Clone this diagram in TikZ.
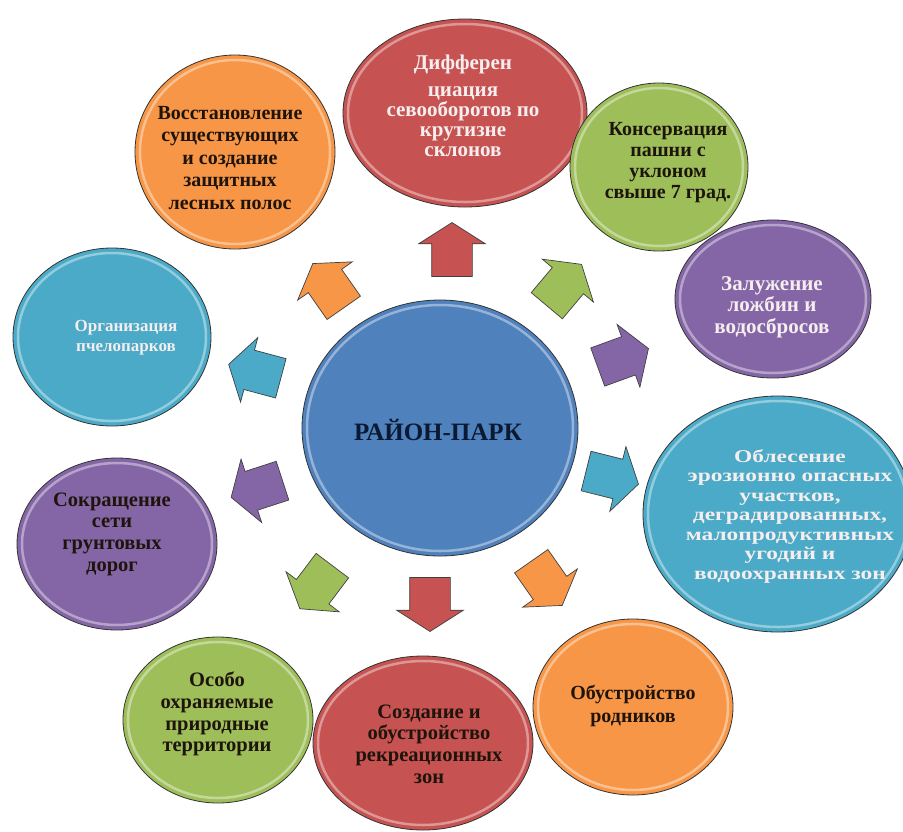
\documentclass[tikz,border=0pt]{standalone}
\usepackage{fontspec}
\setmainfont{Liberation Serif}
\usetikzlibrary{shapes.geometric,shapes.arrows}
\definecolor{cred}{HTML}{C65351}
\definecolor{corange}{HTML}{F79646}
\definecolor{cgreen}{HTML}{9EBE5A}
\definecolor{cpurple}{HTML}{8466A6}
\definecolor{ccyan}{HTML}{4AAAC7}
\definecolor{cblue}{HTML}{4F81BD}
\definecolor{tlight}{HTML}{F5EDEE}
\definecolor{tdark}{HTML}{1E140C}
\definecolor{tnavy}{HTML}{0B1A33}
\newcommand\mybubble[5]{%
  \node[bubble, fill=#5, minimum width=2*#3, minimum height=2*#4] (#1) at #2 {};
  \draw[rim] (#1.center) ellipse [x radius=#3-5, y radius=#4-5];
}
\newcommand\fsz[2]{\fontsize{#1}{#2}\selectfont\bfseries}
\begin{document}
\begin{tikzpicture}[x=1pt,y=-1pt,
  bubble/.style={ellipse, draw=black!80, line width=0.8pt, inner sep=0pt},
  rim/.style={white, opacity=0.4, line width=2.5pt},
  lbl/.style={align=center, inner sep=0pt},
  arr/.style={single arrow, draw=black!75, line width=0.7pt, minimum height=54pt,
    single arrow head extend=13pt, single arrow tip angle=115,
    inner xsep=0pt, inner ysep=20pt}]
\useasboundingbox (0,0) rectangle (903,831);
\fill[white] (0,0) rectangle (903,831);
% outer bubbles
\mybubble{vos}{(235,152)}{100}{97}{corange}
\mybubble{org}{(112,337)}{99}{89}{ccyan}
\mybubble{dif}{(465,113)}{122}{94}{cred}
\mybubble{kon}{(659,167)}{89}{84}{cgreen}
\mybubble{zal}{(773,299)}{98}{79}{cpurple}
\mybubble{obl}{(778,514)}{135}{118}{ccyan}
\mybubble{sok}{(117,544)}{100}{86}{cpurple}
\mybubble{oso}{(218,720)}{95}{83}{cgreen}
\mybubble{obu}{(633,707)}{100}{88}{corange}
\mybubble{soz}{(423,743)}{110}{87}{cred}
\mybubble{cen}{(440,428)}{138}{128}{cblue}
% texts
\node[lbl, text=tlight, font=\fsz{21}{20}] (dift) at (463,106)
  {Дифферен\\[7pt]циация\\севооборотов по\\крутизне\\склонов};
\node[lbl, text=tdark, font=\fsz{20}{22.5}] (vost) at (230,158)
  {Восстановление\\существующих\\и создание\\защитных\\лесных полос};
\node[lbl, text=tdark, font=\fsz{20}{21}] (kont) at (668,163)
  {Консервация\\пашни с\\уклоном\\свыше 7 град.};
\node[lbl, text=tlight, font=\fsz{21}{21.5}] (zalt) at (772,307)
  {Залужение\\ложбин и\\водосбросов};
\node[lbl, text=tlight, font={\fsz{18}{19.5}\addfontfeature{FakeStretch=1.3}}] (oblt) at (790,516)
  {Облесение\\эрозионно опасных\\участков,\\деградированных,\\малопродуктивных\\угодий и\\водоохранных зон};
\node[lbl, text=tdark, font=\fsz{20}{23}] (obut) at (633,706)
  {Обустройство\\родников};
\node[lbl, text=tdark, font=\fsz{20.5}{21.7}] (sozt) at (429,744)
  {Создание и\\обустройство\\рекреационных\\зон};
\node[lbl, text=tdark, font=\fsz{20.5}{21.7}] (osot) at (217,714)
  {Особо\\охраняемые\\природные\\территории};
\node[lbl, text=tdark, font=\fsz{20.5}{21.7}] (sokt) at (112,534)
  {Сокращение\\сети\\грунтовых\\дорог};
\node[lbl, text=tlight, font=\fsz{17}{20}] (orgt) at (126,338)
  {Организация\\пчелопарков};
\node[lbl, text=tnavy, font=\fsz{25}{27}] (cent) at (438,430) {РАЙОН-ПАРК};
% arrows
\node[arr, fill=cred, rotate=90] (a1) at (452,256) {};
\node[arr, fill=cgreen, rotate=50] (a2) at (560,290) {};
\node[arr, fill=cpurple, rotate=20] (a3) at (617,360) {};
\node[arr, fill=ccyan, rotate=-14] (a4) at (606,476) {};
\node[arr, fill=corange, rotate=-55] (a5) at (543,578) {};
\node[arr, fill=cred, rotate=-90] (a6) at (430,598) {};
\node[arr, fill=cgreen, rotate=-127] (a7) at (320,582) {};
\node[arr, fill=cpurple, rotate=-162] (a8) at (263,487) {};
\node[arr, fill=ccyan, rotate=165] (a9) at (261,373) {};
\node[arr, fill=corange, rotate=125] (a10) at (332,291) {};
\end{tikzpicture}
\end{document}
